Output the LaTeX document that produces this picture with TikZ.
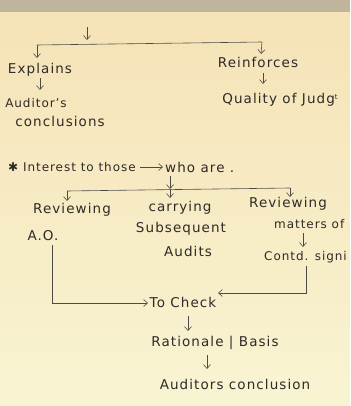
\documentclass[tikz,border=0pt]{standalone}
\usepackage{fontspec}
\setmainfont[LetterSpace=8]{DejaVu Sans}
\usepackage{tikz}
\usetikzlibrary{arrows.meta, positioning}

\definecolor{paperTop}{HTML}{F6E2B6}
\definecolor{paperBottom}{HTML}{F8F4D2}
\definecolor{edgeBand}{HTML}{BFB49C}
\definecolor{ink}{HTML}{2E2B28}

\begin{document}
\begin{tikzpicture}[
    x=1pt, y=-1pt,
    note/.style={
        inner sep=0pt,
        text=ink,
        font=\fontsize{13.5}{15}\selectfont
    },
    small note/.style={note, font=\fontsize{12}{14}\selectfont},
    link/.style={draw=ink!85, line width=0.6pt},
    arrow/.style={-{Straight Barb[length=4pt, width=7pt]}, draw=ink!85, line width=0.6pt}
]
\useasboundingbox (0,0) rectangle (350,406);
\clip (0,0) rectangle (350,406);
\shade[top color=paperTop, bottom color=paperBottom] (0,0) rectangle (350,406);
\fill[edgeBand] (0,0) rectangle (350,12);

% first branch
\node[note] (explains) at (40,70) {Explains};
\node[small note] (audTop) at (36,103) {Auditor's};
\node[note] (audBot) at (60,121) {conclusions};
\node[note] (reinforces) at (258,62) {Reinforces};
\node[note] (quality) at (280,100) {Quality of Judg\raisebox{0.6ex}{\scriptsize t}};

\coordinate (start) at (87,27);
\coordinate (fork) at (87,40);
\coordinate (barL) at (37,45);
\coordinate (barR) at (262,42);
\coordinate (eTop) at (37,58);
\coordinate (rTop) at (261,54);
\coordinate (eBot) at (40,78);
\coordinate (aTop) at (40,90);
\coordinate (rBot) at (263,73);
\coordinate (qTop) at (263,84);

\draw[arrow] (start) -- (fork);
\draw[link] (barL) -- (barR);
\draw[arrow] (barL) -- (eTop);
\draw[arrow] (barR) -- (rTop);
\draw[arrow] (eBot) -- (aTop);
\draw[arrow] (rBot) -- (qTop);

% who is interested
\node[small note, anchor=west] (interest) at (8,167) {✱ Interest to those};
\node[note, anchor=west] (whoAre) at (165,167) {who are .};
\node[note] (reviewA) at (72,210) {Reviewing};
\node[note] (ao) at (43,236) {A.O.};
\node[note] (carrying) at (180,208) {carrying};
\node[note] (subseq) at (181,229) {Subsequent};
\node[note] (audits) at (188,251) {Audits};
\node[note] (reviewB) at (288,204) {Reviewing};
\node[small note, anchor=west] (matters) at (274,224) {matters of};
\node[small note, anchor=west] (contd) at (264,257) {Contd. signi};

\coordinate (wBot) at (170,176);
\coordinate (split) at (170,189);
\coordinate (splitL) at (67,191);
\coordinate (splitR) at (290,188);
\coordinate (mBot) at (303,233);
\coordinate (cTop) at (303,247);

\draw[arrow] ([xshift=4pt]interest.east) -- ([xshift=-2pt]whoAre.west);
\draw[arrow] (wBot) -- (split);
\draw[link] (splitL) -- (splitR);
\draw[arrow] (splitL) -- ++(0,10);
\draw[arrow] (split) -- ++(0,9);
\draw[arrow] (splitR) -- ++(0,9);
\draw[arrow] (mBot) -- (cTop);

% checking
\node[note] (check) at (183,302) {To Check};
\node[note] (basis) at (215,343) {Rationale | Basis};
\node[note] (concl) at (235,384) {Auditors conclusion};

\coordinate (aoBot) at (52,245);
\coordinate (chkL) at (148,303);
\coordinate (cBot) at (306,266);
\coordinate (chkR) at (218,293);
\coordinate (chkBot) at (188,316);
\coordinate (bTop) at (188,331);
\coordinate (bBot) at (207,355);
\coordinate (ccTop) at (207,369);

\draw[arrow] (aoBot) |- (chkL);
\draw[arrow] (cBot) |- (chkR);
\draw[arrow] (chkBot) -- (bTop);
\draw[arrow] (bBot) -- (ccTop);
\end{tikzpicture}
\end{document}
